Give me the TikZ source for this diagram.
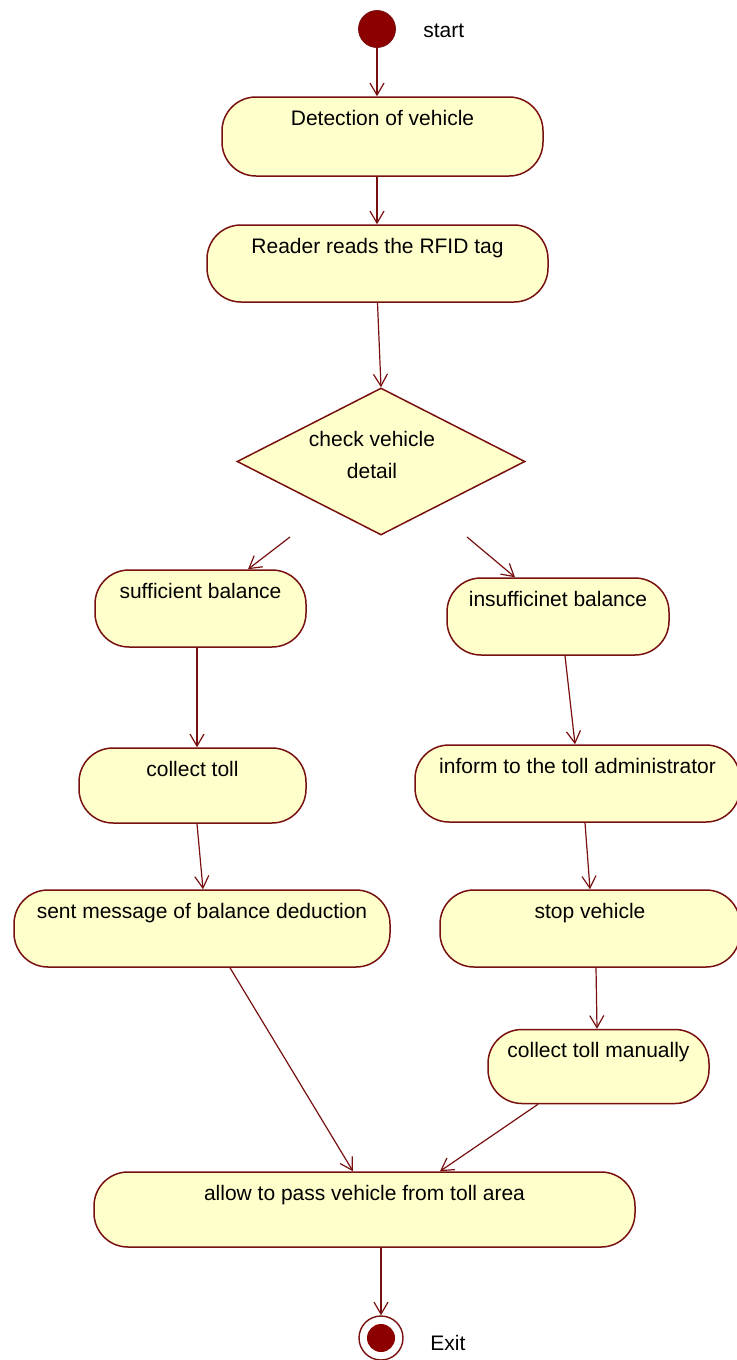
\documentclass[tikz,border=0pt]{standalone}
\usepackage{fontspec}
\setmainfont{Liberation Sans}
\usetikzlibrary{arrows.meta,shapes.geometric}
\definecolor{lineRed}{RGB}{120,16,16}
\definecolor{boxFill}{RGB}{255,255,204}
\definecolor{dotRed}{RGB}{140,0,0}
\tikzset{
  actbox/.style={draw=lineRed, fill=boxFill, line width=0.75pt, rounded corners=17pt, inner sep=0pt},
  boxtxt/.style={anchor=base, yshift=-14.5pt, font=\fontsize{10.5}{12}\selectfont, inner sep=0pt},
  flow/.style={draw=lineRed, line width=0.6pt, -{Straight Barb[length=6pt,width=7pt,line width=0.6pt]}},
  side/.style={font=\fontsize{10.5}{12}\selectfont, inner sep=0pt}
}
\begin{document}
\begin{tikzpicture}[x=0.5pt,y=-0.5pt]
\useasboundingbox (0,0) rectangle (737,1360);
\clip (0,0) rectangle (737,1360);
% start
\node[circle, fill=dotRed, draw=lineRed, minimum size=18.5pt, inner sep=0pt] (start) at (377,29) {};
\node[side, anchor=west] (startlbl) at (423,31) {start};
% activities
\node[actbox, minimum width=160.5pt, minimum height=39.5pt, label={[boxtxt]north:Detection of vehicle}] (det) at (382.5,136.5) {};
\node[actbox, minimum width=170.5pt, minimum height=38.5pt, label={[boxtxt]north:Reader reads the RFID tag}] (rfid) at (377.5,263.5) {};
\node[diamond, draw=lineRed, fill=boxFill, line width=0.75pt, minimum width=144pt, minimum height=73.5pt, inner sep=0pt,
  label={[align=center, anchor=center, xshift=-4.5pt, yshift=3.5pt, font=\fontsize{10.5}{16}\selectfont]center:check vehicle\\detail}] (dia) at (381,461.5) {};
\node[actbox, minimum width=105.5pt, minimum height=38.5pt, label={[boxtxt]north:sufficient balance}] (suff) at (200.5,608.5) {};
\node[actbox, minimum width=111pt, minimum height=38.5pt, label={[boxtxt]north:insufficinet balance}] (insuff) at (558,616.5) {};
\node[actbox, minimum width=113.5pt, minimum height=37.5pt, label={[boxtxt]north:collect toll}] (ctoll) at (192.5,785.5) {};
\node[actbox, minimum width=162.5pt, minimum height=38.5pt, label={[boxtxt]north:inform to the toll administrator}] (inform) at (577.5,783.5) {};
\node[actbox, minimum width=188pt, minimum height=38.5pt, label={[boxtxt]north:sent message of balance deduction}] (sent) at (202,928.5) {};
\node[actbox, minimum width=150pt, minimum height=38.5pt, label={[boxtxt]north:stop vehicle}] (stop) at (590,928.5) {};
\node[actbox, minimum width=110.5pt, minimum height=37pt, label={[boxtxt]north:collect toll manually}] (manual) at (598.5,1066.5) {};
\node[actbox, minimum width=270.5pt, minimum height=37.5pt, label={[boxtxt]north:allow to pass vehicle from toll area}] (allow) at (364.5,1209.5) {};
% exit
\node[circle, draw=lineRed, fill=white, line width=0.7pt, minimum size=22pt, inner sep=0pt] (exit) at (381,1338) {};
\node[circle, fill=dotRed, minimum size=14pt, inner sep=0pt] (exitdot) at (exit.center) {};
\node[side, anchor=west] (exitlbl) at (430,1343) {Exit};
% free ends of the branch arrows
\coordinate (brL) at (290,537);
\coordinate (brR) at (467,537);
% connectors
\draw[flow] (start) -- (start |- det.north);
\draw[flow] (det.south -| start) -- (rfid.north -| start);
\draw[flow] (rfid.south) -- (dia.north);
\draw[flow] (brL) -- ([xshift=23.75pt]suff.north);
\draw[flow] (brR) -- ([xshift=-21.5pt]insuff.north);
\draw[flow] ([xshift=-1.75pt]suff.south) -- ([xshift=2.25pt]ctoll.north);
\draw[flow] ([xshift=3.5pt]insuff.south) -- ([xshift=-1.25pt]inform.north);
\draw[flow] ([xshift=2.25pt]ctoll.south) -- ([xshift=0.5pt]sent.north);
\draw[flow] ([xshift=3.75pt]inform.south) -- ([xshift=0pt]stop.north);
\draw[flow] ([xshift=3pt]stop.south) -- ([xshift=-0.75pt]manual.north);
\draw[flow] ([xshift=14pt]sent.south) -- ([xshift=-5.75pt]allow.north);
\draw[flow] ([xshift=-30.25pt]manual.south) -- ([xshift=37.75pt]allow.north);
\draw[flow] (exit |- allow.south) -- (exit.north);
\end{tikzpicture}
\end{document}
